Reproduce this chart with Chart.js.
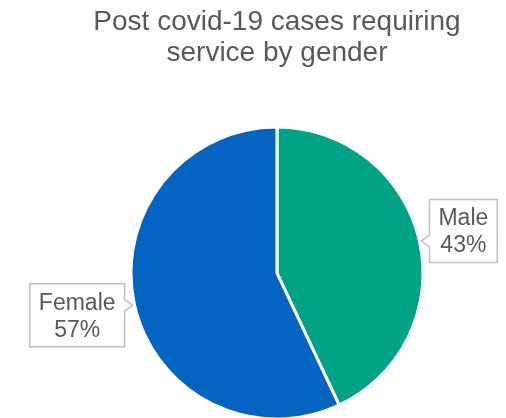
<!DOCTYPE html>
<html>
<head>
<meta charset="utf-8">
<script src="https://cdn.jsdelivr.net/npm/chart.js@4"></script>
<style>
  html, body { margin: 0; padding: 0; background: #fff; }
  #wrap { width: 506px; height: 418px; }
</style>
</head>
<body>
<div id="wrap"><canvas id="genderChart"></canvas></div>
<script>
const categories = ['Male', 'Female'];
const shares = [43, 57];
const sliceColors = ['#00A385', '#0563C1'];

// callout boxes next to each slice
const calloutLabels = {
    id: 'calloutLabels',
    afterDatasetsDraw(chart) {
        const ctx = chart.ctx;
        const arcs = chart.getDatasetMeta(0).data;
        ctx.save();
        ctx.font = '23px "Liberation Sans", Arial, sans-serif';
        arcs.forEach(function (arc, i) {
            const p = arc.getProps(['x', 'y', 'startAngle', 'endAngle', 'outerRadius'], true);
            const mid = (p.startAngle + p.endAngle) / 2;
            const tipX = p.x + Math.cos(mid) * (p.outerRadius + 2);
            const tipY = p.y + Math.sin(mid) * (p.outerRadius + 2);
            const lines = [categories[i], shares[i] + '%'];
            const w = Math.max(...lines.map(t => ctx.measureText(t).width)) + 18;
            const lh = 27;
            const h = lines.length * lh + 9;
            const right = Math.cos(mid) > 0;
            const bx = right ? tipX + 8 : tipX - 8 - w;
            const by = tipY + Math.sin(mid) * 45 - h / 2;
            const edge = right ? bx : bx + w;

            ctx.beginPath();
            ctx.moveTo(bx, by);
            ctx.lineTo(bx + w, by);
            if (!right) {
                ctx.lineTo(edge, tipY - 6);
                ctx.lineTo(tipX, tipY);
                ctx.lineTo(edge, tipY + 6);
            }
            ctx.lineTo(bx + w, by + h);
            ctx.lineTo(bx, by + h);
            if (right) {
                ctx.lineTo(edge, tipY + 6);
                ctx.lineTo(tipX, tipY);
                ctx.lineTo(edge, tipY - 6);
            }
            ctx.closePath();
            ctx.fillStyle = '#ffffff';
            ctx.fill();
            ctx.strokeStyle = '#BFBFBF';
            ctx.lineWidth = 1.5;
            ctx.stroke();

            ctx.fillStyle = '#595959';
            ctx.textAlign = 'center';
            ctx.textBaseline = 'middle';
            lines.forEach(function (t, k) {
                ctx.fillText(t, bx + w / 2, by + 5 + lh / 2 + k * lh + 1);
            });
        });
        ctx.restore();
    }
};

new Chart(document.getElementById('genderChart'), {
    type: 'pie',
    data: {
        labels: categories,
        datasets: [{
            data: shares,
            backgroundColor: sliceColors,
            borderColor: '#ffffff',
            borderWidth: 3
        }]
    },
    options: {
        responsive: true,
        maintainAspectRatio: false,
        animation: false,
        radius: 146,
        layout: {
            padding: { left: 48, top: 0, right: 0, bottom: 0 }
        },
        plugins: {
            legend: { display: false },
            tooltip: { enabled: false },
            title: {
                display: true,
                text: ['Post covid-19 cases requiring', 'service by gender'],
                color: '#595959',
                font: { family: '"Liberation Sans", Arial, sans-serif', size: 28, weight: 'normal', lineHeight: 1.11 },
                padding: { top: 7, bottom: 59 }
            }
        }
    },
    plugins: [calloutLabels]
});
</script>
</body>
</html>
